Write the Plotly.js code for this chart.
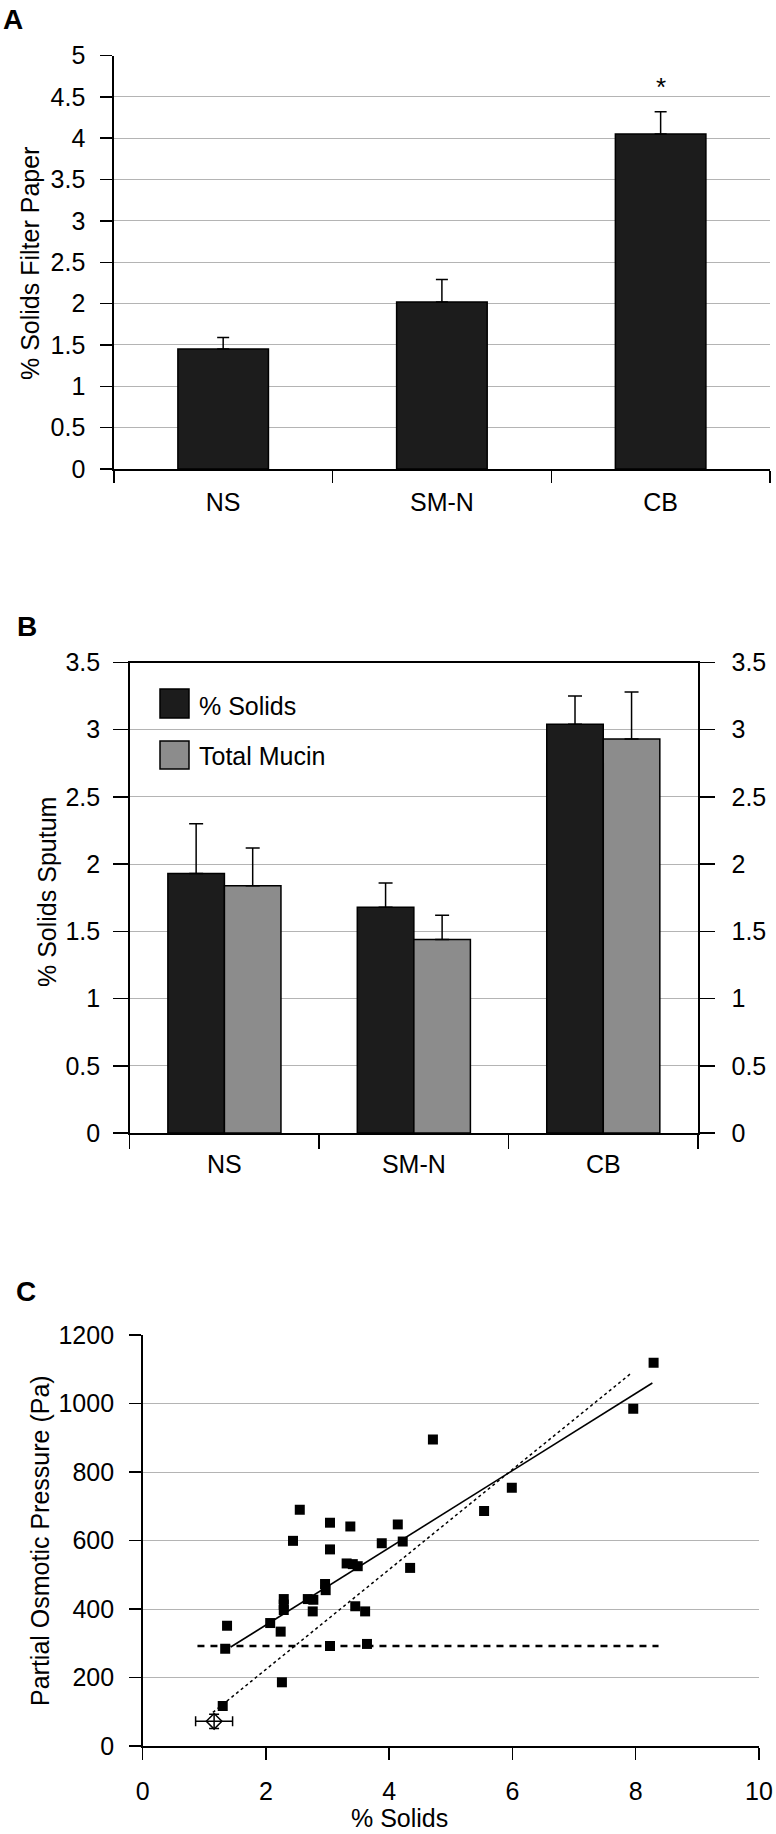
<!DOCTYPE html>
<html>
<head>
<meta charset="utf-8">
<script src="https://cdn.plot.ly/plotly-3.0.1.min.js"></script>
<style>html,body{margin:0;padding:0;background:#fff;}#chart{width:776px;height:1834px;}</style>
</head>
<body>
<div id="chart"></div>
<script>
// ---------- Data ----------
var categories = ['NS', 'SM-N', 'CB'];

// Panel A: % solids filter paper
var solidsFilter = [1.45, 2.02, 4.05];
var solidsFilterErr = [0.14, 0.27, 0.27];

// Panel B: % solids sputum and total mucin
var solidsSputum = [1.93, 1.68, 3.04];
var solidsSputumErr = [0.37, 0.18, 0.21];
var totalMucin = [1.84, 1.44, 2.93];
var totalMucinErr = [0.28, 0.18, 0.35];

// Panel C: partial osmotic pressure vs % solids
var osmX = [8.29, 7.96, 4.71, 5.99, 5.54, 2.55, 3.04, 3.37, 4.14, 2.44, 4.22, 3.88, 3.04, 3.31, 3.41, 3.49, 4.34, 2.96, 2.97, 2.29, 2.68, 2.77, 2.29, 2.29, 2.76, 3.45, 3.61, 2.07, 1.37, 2.24, 1.34, 3.04, 3.64, 2.26, 1.30];
var osmY = [1119, 985, 895, 754, 686, 690, 652, 641, 647, 599, 597, 592, 574, 533, 531, 525, 520, 473, 455, 429, 429, 427, 413, 397, 393, 408, 393, 359, 351, 334, 284, 292, 298, 186, 117];
var normalX = [1.16];
var normalY = [72];
var normalXErr = [0.30];
var normalYErr = [21];
var fitSolidX = [1.43, 8.27];
var fitSolidY = [289, 1060];
var fitDottedX = [1.14, 7.93];
var fitDottedY = [98, 1089];
var thresholdX = [0.89, 8.37];
var thresholdY = [292, 292];

// ---------- Helpers ----------
var W = 776, H = 1834;
function px(x) { return x / W; }
function py(y) { return 1 - y / H; }
function zeros(a) { return a.map(function () { return 0; }); }

var FONT = 'Liberation Sans, Arial, Helvetica, sans-serif';
var GRID = '#b4b4b4';
var DARK = '#1c1c1c';
var GRAY = '#8c8c8c';

var traces = [
  {
    type: 'bar', x: categories, y: solidsFilter, xaxis: 'x', yaxis: 'y',
    width: 0.414,
    marker: { color: DARK, line: { color: '#000', width: 1.5 } },
    error_y: { type: 'data', symmetric: false, array: solidsFilterErr, arrayminus: zeros(solidsFilterErr), color: '#000', thickness: 1.5, width: 6 },
    showlegend: false, hoverinfo: 'none'
  },
  {
    type: 'bar', name: '% Solids', x: categories, y: solidsSputum, xaxis: 'x2', yaxis: 'y2',
    marker: { color: DARK, line: { color: '#000', width: 1.5 } },
    error_y: { type: 'data', symmetric: false, array: solidsSputumErr, arrayminus: zeros(solidsSputumErr), color: '#000', thickness: 1.5, width: 7 },
    showlegend: false, hoverinfo: 'none'
  },
  {
    type: 'bar', name: 'Total Mucin', x: categories, y: totalMucin, xaxis: 'x2', yaxis: 'y2',
    marker: { color: GRAY, line: { color: '#000', width: 1.5 } },
    error_y: { type: 'data', symmetric: false, array: totalMucinErr, arrayminus: zeros(totalMucinErr), color: '#000', thickness: 1.5, width: 7 },
    showlegend: false, hoverinfo: 'none'
  },
  // carrier trace so that the right-hand axis of panel B is drawn
  {
    type: 'scatter', mode: 'markers', x: [categories[0]], y: [null], xaxis: 'x2', yaxis: 'y3',
    showlegend: false, hoverinfo: 'none'
  },
  {
    type: 'scatter', mode: 'lines', x: thresholdX, y: thresholdY, xaxis: 'x3', yaxis: 'y4',
    line: { color: '#000', width: 2.5, dash: '7px,6px' }, showlegend: false, hoverinfo: 'none'
  },
  {
    type: 'scatter', mode: 'lines', x: fitDottedX, y: fitDottedY, xaxis: 'x3', yaxis: 'y4',
    line: { color: '#000', width: 1.5, dash: '3px,3px' }, showlegend: false, hoverinfo: 'none'
  },
  {
    type: 'scatter', mode: 'lines', x: fitSolidX, y: fitSolidY, xaxis: 'x3', yaxis: 'y4',
    line: { color: '#000', width: 1.6 }, showlegend: false, hoverinfo: 'none'
  },
  {
    type: 'scatter', mode: 'markers', x: osmX, y: osmY, xaxis: 'x3', yaxis: 'y4',
    marker: { symbol: 'square', size: 10, color: '#000' }, showlegend: false, hoverinfo: 'none'
  },
  {
    type: 'scatter', mode: 'markers', x: normalX, y: normalY, xaxis: 'x3', yaxis: 'y4',
    marker: { symbol: 'diamond-open', size: 12, color: '#000', line: { width: 1.5 } },
    error_x: { type: 'data', array: normalXErr, color: '#000', thickness: 1.5, width: 5 },
    error_y: { type: 'data', array: normalYErr, color: '#000', thickness: 1.5, width: 5 },
    showlegend: false, hoverinfo: 'none'
  }
];

var tickFont = { family: FONT, size: 25, color: '#000' };
var catFont = { family: FONT, size: 25, color: '#000' };

var layout = {
  width: W, height: H,
  margin: { l: 0, r: 0, t: 0, b: 0 },
  paper_bgcolor: '#fff', plot_bgcolor: '#fff',
  font: { family: FONT, size: 24, color: '#000' },
  showlegend: false,
  barmode: 'group', bargap: 0.403, bargroupgap: 0,
  // Panel A
  xaxis: {
    domain: [px(113.8), px(770)], anchor: 'y', type: 'category', range: [-0.5, 2.5],
    tickson: 'boundaries', ticks: 'outside', ticklen: 12, tickwidth: 1.5, tickcolor: '#000',
    showline: true, linecolor: '#000', linewidth: 1.5, showgrid: false, zeroline: false,
    tickfont: catFont, ticklabelstandoff: 10, fixedrange: true
  },
  yaxis: {
    domain: [py(469), py(55.5)], anchor: 'x', range: [0, 5], dtick: 0.5, tick0: 0,
    ticks: 'outside', ticklen: 12, tickwidth: 1.5, tickcolor: '#000',
    showline: true, linecolor: '#000', linewidth: 1.5,
    showgrid: true, gridcolor: GRID, gridwidth: 1, zeroline: false,
    tickfont: tickFont, ticklabelstandoff: 10, fixedrange: true
  },
  // Panel B
  xaxis2: {
    domain: [px(129.7), px(698)], anchor: 'y2', type: 'category', range: [-0.5, 2.5],
    tickson: 'boundaries', ticks: 'outside', ticklen: 14, tickwidth: 1.5, tickcolor: '#000',
    showline: true, mirror: true, linecolor: '#000', linewidth: 1.5, showgrid: false, zeroline: false,
    tickfont: catFont, ticklabelstandoff: 8, fixedrange: true
  },
  yaxis2: {
    domain: [py(1133), py(662.5)], anchor: 'x2', range: [0, 3.5], dtick: 0.5, tick0: 0,
    ticks: 'outside', ticklen: 15, tickwidth: 1.5, tickcolor: '#000',
    showline: true, linecolor: '#000', linewidth: 1.5,
    showgrid: true, gridcolor: GRID, gridwidth: 1, zeroline: false,
    tickfont: tickFont, ticklabelstandoff: 8, fixedrange: true
  },
  yaxis3: {
    overlaying: 'y2', side: 'right', anchor: 'x2', range: [0, 3.5], dtick: 0.5, tick0: 0,
    ticks: 'outside', ticklen: 15, tickwidth: 1.5, tickcolor: '#000',
    showline: true, linecolor: '#000', linewidth: 1.5,
    showgrid: false, zeroline: false,
    tickfont: tickFont, ticklabelstandoff: 12, fixedrange: true
  },
  // Panel C
  xaxis3: {
    domain: [px(142.6), px(759)], anchor: 'y4', range: [0, 10], dtick: 2, tick0: 0,
    ticks: 'outside', ticklen: 12, tickwidth: 1.5, tickcolor: '#000',
    showline: true, linecolor: '#000', linewidth: 1.5, showgrid: false, zeroline: false,
    tickfont: tickFont, ticklabelstandoff: 10, fixedrange: true
  },
  yaxis4: {
    domain: [py(1746), py(1335)], anchor: 'x3', range: [0, 1200], dtick: 200, tick0: 0,
    ticks: 'outside', ticklen: 12, tickwidth: 1.5, tickcolor: '#000',
    showline: true, linecolor: '#000', linewidth: 1.5,
    showgrid: true, gridcolor: GRID, gridwidth: 1, zeroline: false,
    tickfont: tickFont, ticklabelstandoff: 10, fixedrange: true
  },
  shapes: [
    { type: 'rect', xref: 'paper', yref: 'paper', x0: px(160), x1: px(189), y0: py(718), y1: py(689),
      fillcolor: DARK, line: { color: '#000', width: 1.5 } },
    { type: 'rect', xref: 'paper', yref: 'paper', x0: px(160), x1: px(189), y0: py(769), y1: py(741),
      fillcolor: GRAY, line: { color: '#000', width: 1.5 } }
  ],
  annotations: [
    { text: '<b>A</b>', xref: 'paper', yref: 'paper', x: px(1), y: py(20), xanchor: 'left', yanchor: 'middle', showarrow: false, font: { family: FONT, size: 28 } },
    { text: '<b>B</b>', xref: 'paper', yref: 'paper', x: px(15), y: py(626), xanchor: 'left', yanchor: 'middle', showarrow: false, font: { family: FONT, size: 28 } },
    { text: '<b>C</b>', xref: 'paper', yref: 'paper', x: px(14), y: py(1291), xanchor: 'left', yanchor: 'middle', showarrow: false, font: { family: FONT, size: 28 } },
    { text: '% Solids Filter Paper', xref: 'paper', yref: 'paper', x: px(30), y: py(264), xanchor: 'center', yanchor: 'middle', textangle: -90, showarrow: false, font: { family: FONT, size: 25 } },
    { text: '% Solids Sputum', xref: 'paper', yref: 'paper', x: px(47), y: py(892), xanchor: 'center', yanchor: 'middle', textangle: -90, showarrow: false, font: { family: FONT, size: 25 } },
    { text: 'Partial Osmotic Pressure (Pa)', xref: 'paper', yref: 'paper', x: px(40), y: py(1541), xanchor: 'center', yanchor: 'middle', textangle: -90, showarrow: false, font: { family: FONT, size: 25 } },
    { text: '% Solids', xref: 'paper', yref: 'paper', x: px(400), y: py(1818), xanchor: 'center', yanchor: 'middle', showarrow: false, font: { family: FONT, size: 25 } },
    { text: '% Solids', xref: 'paper', yref: 'paper', x: px(197), y: py(706), xanchor: 'left', yanchor: 'middle', showarrow: false, font: { family: FONT, size: 25 } },
    { text: 'Total Mucin', xref: 'paper', yref: 'paper', x: px(197), y: py(756), xanchor: 'left', yanchor: 'middle', showarrow: false, font: { family: FONT, size: 25 } },
    { text: '*', xref: 'x', yref: 'y', x: 'CB', y: 4.62, xanchor: 'center', yanchor: 'middle', showarrow: false, font: { family: FONT, size: 26 } }
  ]
};

Plotly.newPlot('chart', traces, layout, { staticPlot: true, displayModeBar: false });
</script>
</body>
</html>
